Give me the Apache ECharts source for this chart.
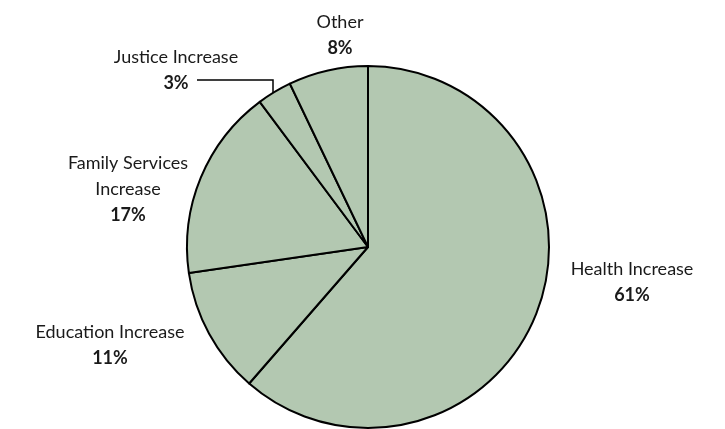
<!DOCTYPE html>
<html>
<head>
<meta charset="utf-8">
<script src="https://cdn.jsdelivr.net/npm/echarts@6/dist/echarts.min.js"></script>
<style>html,body{margin:0;padding:0;background:#fff;}#c{width:725px;height:429px;}</style>
</head>
<body>
<div id="c"></div>
<script>
const categories = ['Health Increase', 'Education Increase', 'Family Services\nIncrease', 'Justice Increase', 'Other'];
const values = [61.4, 11.3, 17.1, 3.1, 7.1];
const pctLabels = ['61%', '11%', '17%', '3%', '8%'];

const chart = echarts.init(document.getElementById('c'));
const labelPos = [
  {x: 632, y: 282},
  {x: 110, y: 345},
  {x: 128, y: 189},
  {x: 176, y: 70},
  {x: 340, y: 35}
];
chart.setOption({
  animation: false,
  series: [{
    type: 'pie',
    center: [368, 247],
    radius: 181,
    startAngle: 90,
    clockwise: true,
    itemStyle: {color: '#b3c8b1', borderColor: '#000', borderWidth: 2},
    emphasis: {disabled: true},
    label: {
      show: true,
      fontFamily: 'Lato',
      fontSize: 18,
      color: '#1a1a1a',
      lineHeight: 26,
      align: 'center',
      formatter: p => p.name.split('\n').map(s => '{n|' + s + '}').join('\n') + '\n{p|' + pctLabels[p.dataIndex] + '}',
      rich: {
        n: {fontFamily: 'Lato', fontSize: 18, color: '#1a1a1a', lineHeight: 26, align: 'center'},
        p: {fontFamily: 'Lato', fontSize: 18, fontWeight: 'bold', color: '#1a1a1a', lineHeight: 26, align: 'center'}
      }
    },
    labelLine: {show: false},
    labelLayout: function (params) {
      const i = params.dataIndex;
      const o = {x: labelPos[i].x, y: labelPos[i].y, align: 'center', verticalAlign: 'middle'};
      if (i === 3) {
        o.labelLinePoints = [[197, 80], [273, 80], [273, 94]];
      }
      return o;
    },
    data: categories.map((c, i) => ({
      name: c,
      value: values[i],
      labelLine: i === 3 ? {show: true, lineStyle: {color: '#000', width: 1.5}} : {show: false}
    }))
  }]
});
</script>
</body>
</html>
